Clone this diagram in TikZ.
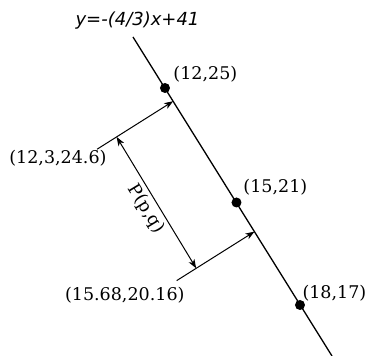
\documentclass[tikz,border=0pt]{standalone}
\usepackage{fontspec}
\usetikzlibrary{arrows.meta}
\newfontfamily\ptfont{DejaVu Serif}
\newfontfamily\eqfont{DejaVu Sans}[ItalicFont={DejaVu Sans Oblique}]
\tikzset{
  ptdot/.style={circle,fill,inner sep=0pt,minimum size=10pt},
  ptlabel/.style={inner sep=0pt},
}
\begin{document}
\begin{tikzpicture}[x=1pt,y=-1pt,>={Stealth[length=9pt,width=6.5pt,inset=2.5pt]},line width=1pt,
    font=\ptfont\fontsize{17.5}{20}\selectfont]
  \useasboundingbox (0,0) rectangle (368,356);
  \node[font=\eqfont\itshape\fontsize{18}{21}\selectfont] (eq) at (137.5,20.5) {y=-(4/3)x+41};
  % the line
  \coordinate (top) at (133,37);
  \coordinate (bot) at (332,356);
  \draw[line width=1.3pt] (top)--(bot);
  \node[ptdot] (a) at (165,88) {};
  \node[ptdot] (b) at (236.5,202.5) {};
  \node[ptdot] (c) at (300,305) {};
  \node[ptlabel,anchor=west] (la) at (173,74.5) {(12,25)};
  \node[ptlabel,anchor=west] (lb) at (243,187) {(15,21)};
  \node[ptlabel,anchor=west] (lc) at (302,293) {(18,17)};
  % perpendiculars
  \coordinate (s1) at (97.1,149.2); \coordinate (f1) at (173.2,101.2);
  \coordinate (s2) at (176.7,280.6); \coordinate (f2) at (254.5,231.6);
  \draw[->] (s1)--(f1);
  \draw[->] (s2)--(f2);
  \node[ptlabel,anchor=east] (ls1) at (107,158.5) {(12,3,24.6)};
  \node[ptlabel,anchor=east] (ls2) at (185,295) {(15.68,20.16)};
  % distance
  \coordinate (d1) at (116.6,136.9); \coordinate (d2) at (196.2,268.3);
  \draw[<->] (d1)--node[below,sloped] (pq) {P(p,q)} (d2);
\end{tikzpicture}
\end{document}
